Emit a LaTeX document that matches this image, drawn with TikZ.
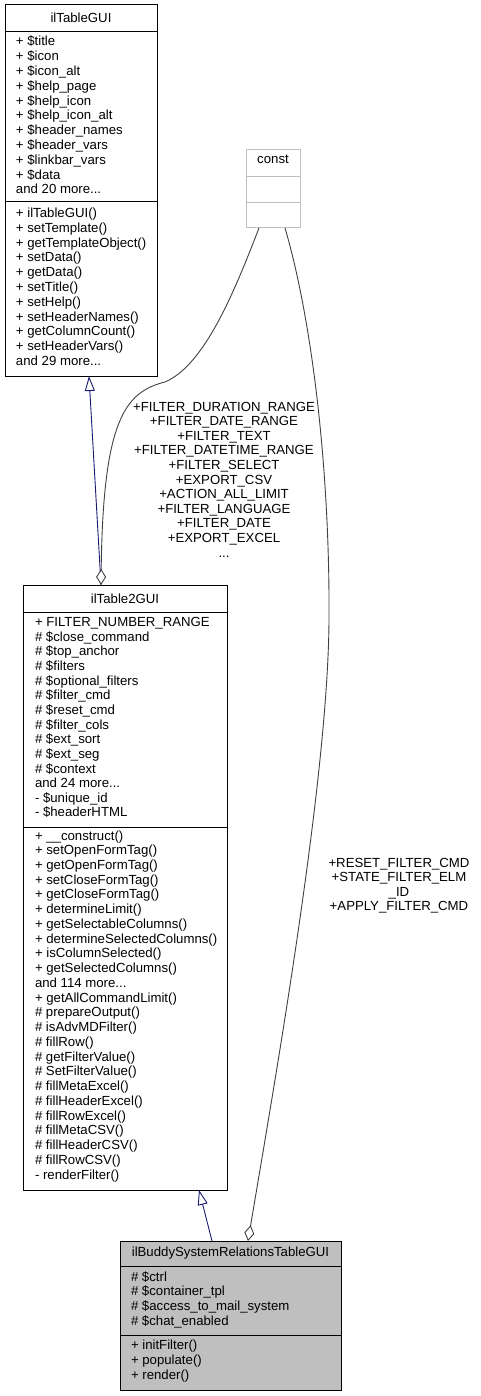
\documentclass[tikz,border=0pt]{standalone}
\usepackage{fontspec}
\setmainfont{Liberation Sans}
\usetikzlibrary{arrows.meta}
\definecolor{edgeblue}{HTML}{191970}
\definecolor{edgegray}{HTML}{404040}
\definecolor{boxgray}{HTML}{BFBFBF}
\newcommand{\threedots}{...}
\begin{document}
\begin{tikzpicture}[x=1pt,y=-1pt,
  every node/.style={inner sep=0pt, outer sep=0pt},
  txt/.style={font=\fontsize{13.2}{14.8}\selectfont, text=black},
  cls/.style={draw=black, line width=1pt, fill=white, anchor=north west},
  clsgray/.style={draw=black, line width=1pt, fill=boxgray, anchor=north west},
  clsconst/.style={draw=boxgray, line width=1pt, fill=white, anchor=north west},
  sep/.style={line width=1pt, draw=black},
  inh/.style={draw=edgeblue, line width=0.9pt, -{Triangle[length=15pt,width=10pt,fill=white]}},
  agg/.style={draw=edgegray, line width=0.9pt, -{Diamond[length=16pt,width=10pt,fill=white]}}
]
\useasboundingbox (0,0) rectangle (481,1396);

% ---------------- ilTableGUI ----------------
\node[cls, minimum width=152pt, minimum height=371pt] (tg) at (5,5) {};
\draw[sep] (tg.west |- 0,32) -- (tg.east |- 0,32);
\draw[sep] (tg.west |- 0,202) -- (tg.east |- 0,202);
\node[txt, anchor=base] (tgt) at (81,22.5) {ilTableGUI};
\foreach \t [count=\i from 0] in {+ \$title, + \$icon, + \$icon\_alt, + \$help\_page, + \$help\_icon, + \$help\_icon\_alt, + \$header\_names, + \$header\_vars, + \$linkbar\_vars, + \$data, and 20 more\threedots}
  \node[txt, anchor=base west] (tga\i) at (16,{46+14.8*\i}) {\t};
\foreach \t [count=\i from 0] in {+ ilTableGUI(), + setTemplate(), + getTemplateObject(), + setData(), + getData(), + setTitle(), + setHelp(), + setHeaderNames(), + getColumnCount(), + setHeaderVars(), and 29 more\threedots}
  \node[txt, anchor=base west] (tgm\i) at (16,{217.5+14.8*\i}) {\t};

% ---------------- const ----------------
\node[clsconst, minimum width=54pt, minimum height=78pt] (cn) at (246,150) {};
\draw[draw=boxgray, line width=1pt] (cn.west |- 0,177) -- (cn.east |- 0,177);
\draw[draw=boxgray, line width=1pt] (cn.west |- 0,203) -- (cn.east |- 0,203);
\node[txt, anchor=base] (cnt) at (273,164) {const};

% ---------------- ilTable2GUI ----------------
\node[cls, minimum width=204pt, minimum height=605pt] (t2) at (23,585) {};
\draw[sep] (t2.west |- 0,612) -- (t2.east |- 0,612);
\draw[sep] (t2.west |- 0,827) -- (t2.east |- 0,827);
\node[txt, anchor=base] (t2t) at (125,603.5) {ilTable2GUI};
\foreach \t [count=\i from 0] in {+ FILTER\_NUMBER\_RANGE, \# \$close\_command, \# \$top\_anchor, \# \$filters, \# \$optional\_filters, \# \$filter\_cmd, \# \$reset\_cmd, \# \$filter\_cols, \# \$ext\_sort, \# \$ext\_seg, \# \$context, and 24 more\threedots, - \$unique\_id, - \$headerHTML}
  \node[txt, anchor=base west] (t2a\i) at (35,{626.5+14.65*\i}) {\t};
\foreach \t [count=\i from 0] in {+ \_\_construct(), + setOpenFormTag(), + getOpenFormTag(), + setCloseFormTag(), + getCloseFormTag(), + determineLimit(), + getSelectableColumns(), + determineSelectedColumns(), + isColumnSelected(), + getSelectedColumns(), and 114 more\threedots, + getAllCommandLimit(), \# prepareOutput(), \# isAdvMDFilter(), \# fillRow(), \# getFilterValue(), \# SetFilterValue(), \# fillMetaExcel(), \# fillHeaderExcel(), \# fillRowExcel(), \# fillMetaCSV(), \# fillHeaderCSV(), \# fillRowCSV(), - renderFilter()}
  \node[txt, anchor=base west] (t2m\i) at (35,{840+14.74*\i}) {\t};

% ---------------- ilBuddySystemRelationsTableGUI ----------------
\node[clsgray, minimum width=221pt, minimum height=149pt] (bud) at (120,1241) {};
\draw[sep] (bud.west |- 0,1266) -- (bud.east |- 0,1266);
\draw[sep] (bud.west |- 0,1335) -- (bud.east |- 0,1335);
\node[txt, anchor=base] (budt) at (230.5,1256) {ilBuddySystemRelationsTableGUI};
\foreach \t [count=\i from 0] in {\# \$ctrl, \# \$container\_tpl, \# \$access\_to\_mail\_system, \# \$chat\_enabled}
  \node[txt, anchor=base west] (buda\i) at (131,{1281+14.7*\i}) {\t};
\foreach \t [count=\i from 0] in {+ initFilter(), + populate(), + render()}
  \node[txt, anchor=base west] (budm\i) at (131,{1349.5+14.75*\i}) {\t};

% ---------------- connectors ----------------
\draw[inh] ([xshift=-24pt]t2.north) -- ([xshift=8pt]tg.south);
\draw[inh] ([xshift=-18.5pt]bud.north) -- ([xshift=74pt]t2.south);
\draw[agg] ([xshift=-14pt]cn.south) .. controls (235,290) and (205,365) .. (165,382)
  .. controls (125,392) and (103,420) .. ([xshift=-24pt]t2.north);
\draw[agg] ([xshift=12pt]cn.south) .. controls (312,320) and (330,470) .. (329,620)
  .. controls (328,780) and (275,1080) .. ([xshift=17.5pt]bud.north);

% ---------------- labels ----------------
\foreach \t [count=\i from 0] in {+FILTER\_DURATION\_RANGE, +FILTER\_DATE\_RANGE, +FILTER\_TEXT, +FILTER\_DATETIME\_RANGE, +FILTER\_SELECT, +EXPORT\_CSV, +ACTION\_ALL\_LIMIT, +FILTER\_LANGUAGE, +FILTER\_DATE, +EXPORT\_EXCEL, \threedots}
  \node[txt, anchor=base] (la\i) at (224,{411+14.6*\i}) {\t};
\foreach \t [count=\i from 0] in {+RESET\_FILTER\_CMD, +STATE\_FILTER\_ELM, \_ID, +APPLY\_FILTER\_CMD}
  \node[txt, anchor=base] (lb\i) at (399,{867+14.5*\i}) {\t};
\end{tikzpicture}
\end{document}
